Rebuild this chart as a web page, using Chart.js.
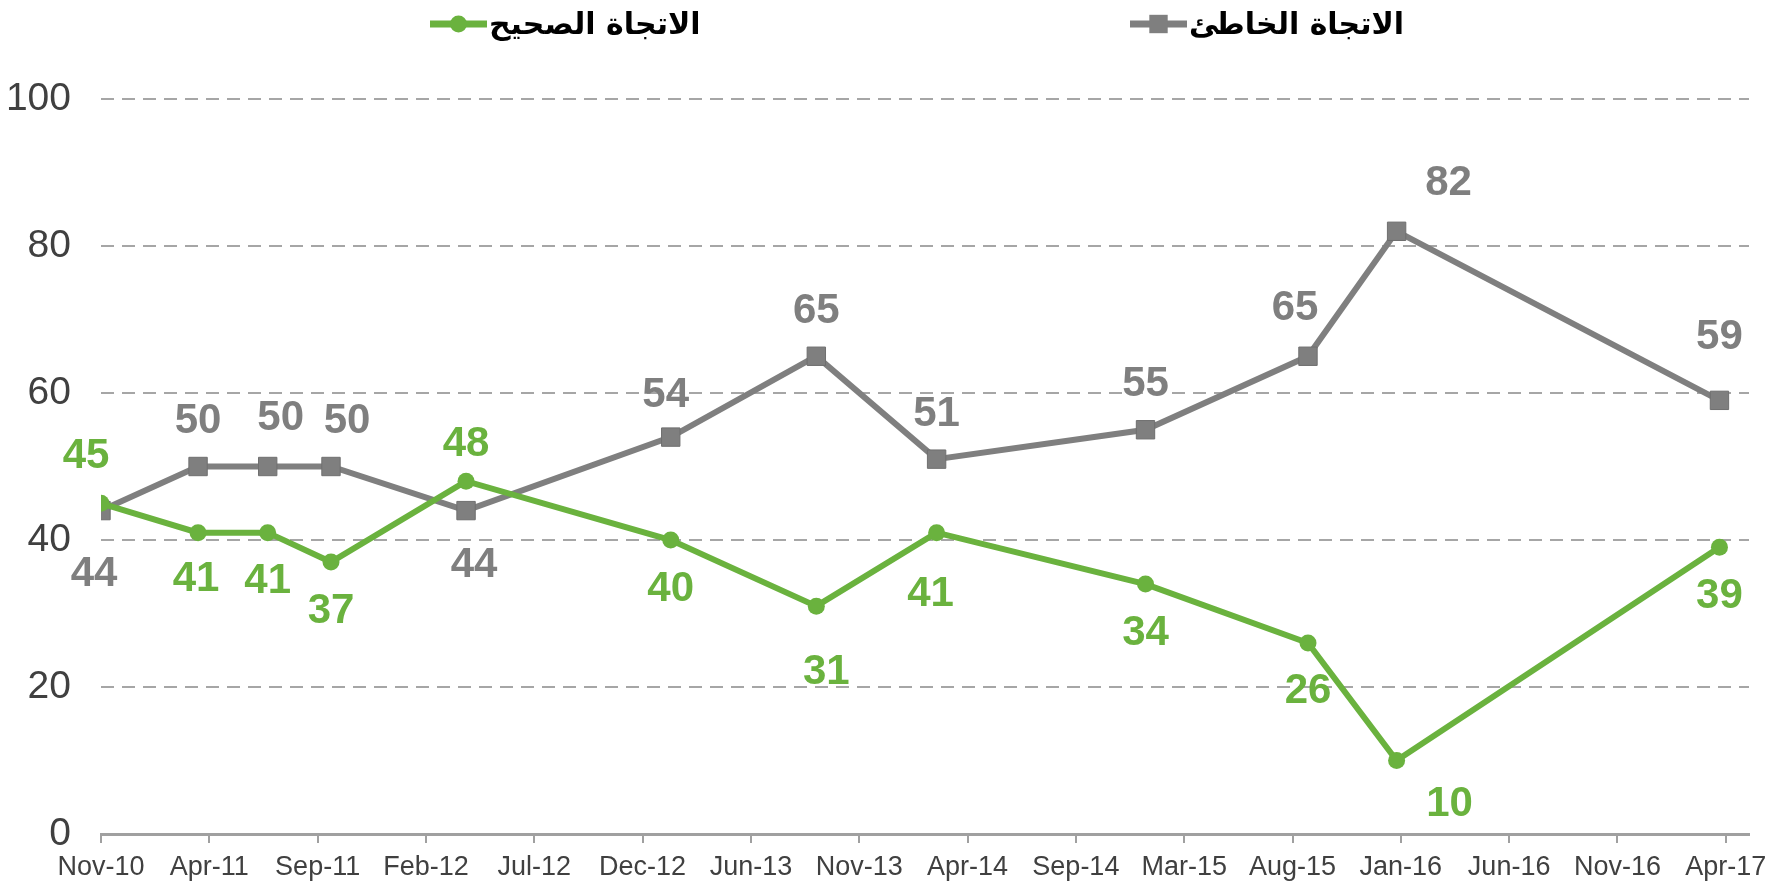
<!DOCTYPE html>
<html lang="ar">
<head>
<meta charset="utf-8">
<script src="https://cdn.jsdelivr.net/npm/chart.js@4.4.1/dist/chart.umd.min.js"></script>
<style>
  html, body { margin: 0; padding: 0; background: #fff; }
  #wrap { width: 1777px; height: 882px; }
</style>
</head>
<body>
<div id="wrap"><canvas id="grafico"></canvas></div>
<script>
// Tick labels of the date axis (evenly spaced, Excel style)
const tickLabels = ['Nov-10', 'Apr-11', 'Sep-11', 'Feb-12', 'Jul-12', 'Dec-12', 'Jun-13', 'Nov-13',
                    'Apr-14', 'Sep-14', 'Mar-15', 'Aug-15', 'Jan-16', 'Jun-16', 'Nov-16', 'Apr-17'];
const TOTAL_MONTHS = 77; // Nov-10 -> Apr-17

// Survey dates, in months after Nov-10
const surveyMonths = [0, 4.6, 7.9, 10.9, 17.3, 27.0, 33.9, 39.6, 49.5, 57.2, 61.4, 76.7];

// Series
const seriesNames = ['الاتجاة الصحيح', 'الاتجاة الخاطئ'];
const rightDirection = [45, 41, 41, 37, 48, 40, 31, 41, 34, 26, 10, 39];
const wrongDirection = [44, 50, 50, 50, 44, 54, 65, 51, 55, 65, 82, 59];

const GREEN = '#6ab23e';
const GREY = '#7f7f7f';
const tickStep = TOTAL_MONTHS / (tickLabels.length - 1);

function toPoints(values) {
    return values.map((v, i) => ({ x: surveyMonths[i], y: v }));
}

// Label placement: default below (green) / above (grey), a few moved by hand
const labelDefault = [49, -45];
const labelNudge = [
    { 0: [-15, -47], 1: [-2, 47], 4: [0, -37], 6: [10, 66], 7: [-6, 62], 10: [53, 44] },
    { 0: [-7, 64], 2: [13, -48], 3: [16, -45], 4: [8, 55], 5: [-5, -42], 9: [-13, -48], 10: [52, -48], 11: [0, -63] }
];

const valueLabels = {
    id: 'valueLabels',
    afterDatasetsDraw(chart) {
        const ctx = chart.ctx;
        ctx.save();
        ctx.font = 'bold 42px "Liberation Sans", Arial, sans-serif';
        ctx.textAlign = 'center';
        ctx.textBaseline = 'middle';
        chart.data.datasets.forEach((ds, d) => {
            ctx.fillStyle = ds.borderColor;
            chart.getDatasetMeta(d).data.forEach((pt, i) => {
                const n = labelNudge[d][i] || [0, labelDefault[d]];
                ctx.fillText(String(ds.data[i].y), pt.x + n[0], pt.y + n[1]);
            });
        });
        ctx.restore();
    }
};

// Legend drawn by hand: Chart.js legend cannot put such a wide gap between two items
const topLegend = {
    id: 'topLegend',
    afterDraw(chart) {
        const ctx = chart.ctx;
        ctx.save();
        ctx.font = 'bold 30px "DejaVu Sans", sans-serif';
        ctx.textBaseline = 'middle';
        const lineLen = 57, gapText = 2, y = 24;
        const starts = [430, 1130];
        chart.data.datasets.forEach((ds, d) => {
            const x = starts[d];
            ctx.strokeStyle = ds.borderColor;
            ctx.lineWidth = 7;
            ctx.beginPath();
            ctx.moveTo(x, y);
            ctx.lineTo(x + lineLen, y);
            ctx.stroke();
            ctx.fillStyle = ds.borderColor;
            Chart.helpers.drawPoint(ctx, { pointStyle: ds.pointStyle, radius: ds.pointRadius, borderWidth: 0, rotation: 0 },
                x + lineLen / 2, y);
            ctx.fillStyle = '#000';
            ctx.textAlign = 'left';
            ctx.fillText(ds.label, x + lineLen + gapText, y + 2);
        });
        ctx.restore();
    }
};

new Chart(document.getElementById('grafico'), {
    type: 'line',
    data: {
        datasets: [
            {
                label: seriesNames[0],
                data: toPoints(rightDirection),
                borderColor: GREEN,
                backgroundColor: GREEN,
                borderWidth: 6,
                pointStyle: 'circle',
                pointRadius: 8.5,
                pointBorderWidth: 0,
                tension: 0
            },
            {
                label: seriesNames[1],
                data: toPoints(wrongDirection),
                borderColor: GREY,
                backgroundColor: GREY,
                borderWidth: 6,
                pointStyle: 'rect',
                pointRadius: 13,
                pointBorderColor: '#6f6f6f',
                pointBorderWidth: 1,
                tension: 0
            }
        ]
    },
    options: {
        responsive: true,
        maintainAspectRatio: false,
        animation: false,
        layout: { padding: { top: 99, left: 0, right: 28, bottom: 0 } },
        plugins: {
            legend: { display: false },
            tooltip: { enabled: false }
        },
        scales: {
            x: {
                type: 'linear',
                min: 0,
                max: 78.1,
                afterBuildTicks: axis => {
                    axis.ticks = tickLabels.map((_, i) => ({ value: i * tickStep }));
                },
                afterFit: scale => { scale.height = 48; },
                ticks: {
                    autoSkip: false,
                    maxRotation: 0,
                    padding: 8,
                    color: '#404040',
                    font: { family: '"Liberation Sans", Arial, sans-serif', size: 27 },
                    callback: (v, i) => tickLabels[i]
                },
                grid: { drawOnChartArea: false, drawTicks: true, tickLength: 9, color: '#a0a0a0', lineWidth: 2 },
                border: { display: true, color: '#a0a0a0', width: 3 }
            },
            y: {
                min: 0,
                max: 100,
                afterFit: scale => { scale.width = 101; },
                ticks: {
                    stepSize: 20,
                    padding: 0,
                    color: '#404040',
                    font: { family: '"Liberation Sans", Arial, sans-serif', size: 39 }
                },
                // invisible tick marks give the gap between labels and plot
                grid: {
                    drawTicks: true,
                    tickLength: 30,
                    tickColor: 'rgba(0,0,0,0)',
                    color: ctx => ctx.tick.value === 0 ? 'rgba(0,0,0,0)' : '#a6a6a6',
                    lineWidth: 2
                },
                border: { display: false, dash: [13, 8] }
            }
        }
    },
    plugins: [valueLabels, topLegend]
});
</script>
</body>
</html>
